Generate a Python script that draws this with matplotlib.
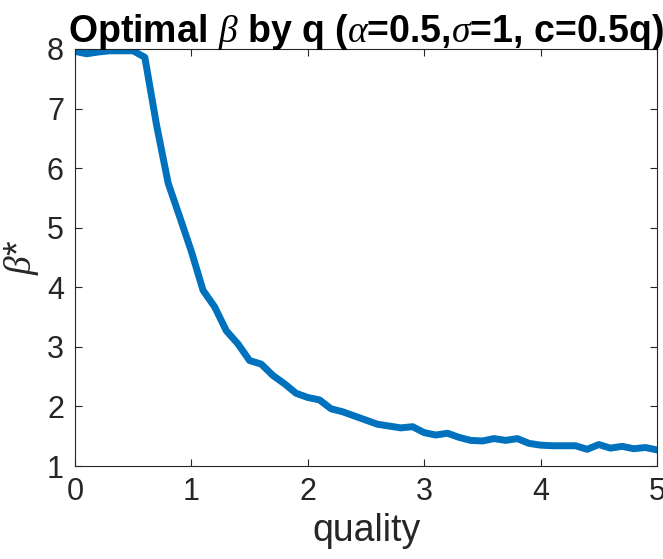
import numpy as np
import matplotlib
matplotlib.use("Agg")
import matplotlib.pyplot as plt

# values
quality = [0.0, 0.1, 0.2, 0.3, 0.4, 0.5, 0.6, 0.7, 0.8, 0.9,
           1.0, 1.1, 1.2, 1.3, 1.4, 1.5, 1.6, 1.7, 1.8, 1.9,
           2.0, 2.1, 2.2, 2.3, 2.4, 2.5, 2.6, 2.7, 2.8, 2.9,
           3.0, 3.1, 3.2, 3.3, 3.4, 3.5, 3.6, 3.7, 3.8, 3.9,
           4.0, 4.1, 4.2, 4.3, 4.4, 4.5, 4.6, 4.7, 4.8, 4.9, 5.0]
beta_opt = [7.96, 7.92, 7.95, 7.97, 7.97, 7.97, 7.86, 6.73, 5.75, 5.18,
            4.60, 3.95, 3.67, 3.27, 3.05, 2.77, 2.71, 2.52, 2.38, 2.22,
            2.15, 2.11, 1.96, 1.91, 1.84, 1.77, 1.70, 1.67, 1.64, 1.66,
            1.56, 1.52, 1.55, 1.48, 1.43, 1.42, 1.46, 1.43, 1.46, 1.38,
            1.35, 1.34, 1.34, 1.34, 1.28, 1.36, 1.30, 1.33, 1.29, 1.31, 1.27]
x_ticks = [0, 1, 2, 3, 4, 5]
y_ticks = [1, 2, 3, 4, 5, 6, 7, 8]

plt.rcParams['font.family'] = ['Liberation Sans', 'DejaVu Sans']
plt.rcParams['mathtext.fontset'] = 'custom'
plt.rcParams['mathtext.rm'] = 'Liberation Sans'
plt.rcParams['mathtext.it'] = 'Liberation Serif:italic'

fig = plt.figure(figsize=(6.63, 5.59), dpi=100)
ax = fig.add_axes([75/663, 93/559, 582/663, 417/559])

ax.plot(quality, beta_opt, color="#0072BD", linewidth=5, solid_joinstyle='round')

ax.set_xlim(0, 5)
ax.set_ylim(1, 8)
ax.set_xticks(x_ticks)
ax.set_yticks(y_ticks)

dark = "#262626"
for s in ax.spines.values():
    s.set_color(dark)
    s.set_linewidth(0.8)
ax.tick_params(direction='in', length=5, width=0.8, color=dark, labelcolor=dark,
               labelsize=22, top=True, right=True)
ax.tick_params(axis='x', pad=8)
ax.tick_params(axis='y', pad=8)

ax.set_title(r"Optimal $\beta$ by q ($\alpha$=0.5,$\sigma$=1, c=0.5q)",
             fontsize=27, fontweight='bold', color='black', pad=5)
ax.set_xlabel("quality", fontsize=27, color=dark, labelpad=4)
ax.set_ylabel(r"$\beta$*", fontsize=27, color=dark, labelpad=4)

plt.savefig("out.png", dpi=100)
